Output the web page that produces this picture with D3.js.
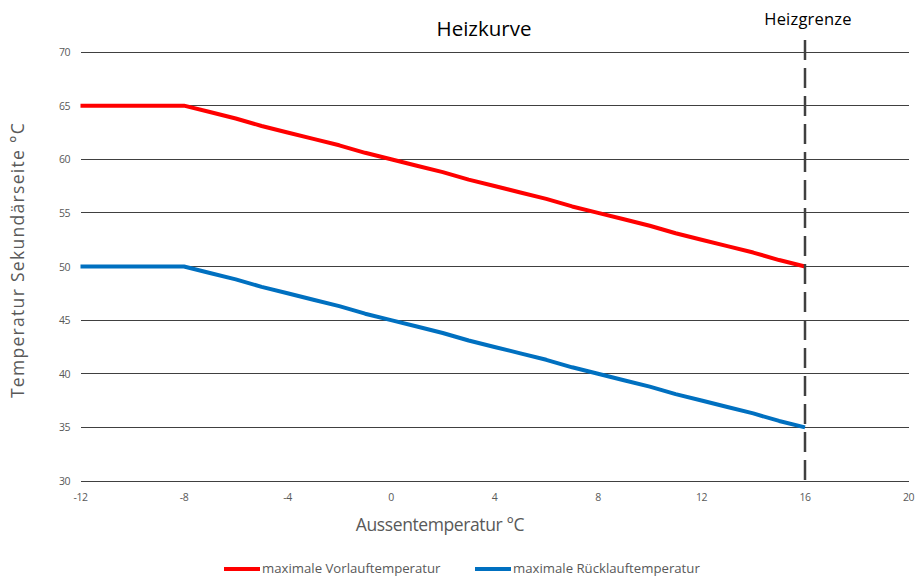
<!DOCTYPE html>
<html><head><meta charset="utf-8">
<script src="https://cdn.jsdelivr.net/npm/d3@7"></script>
<style>body{margin:0;background:#fff}svg{display:block}</style>
</head><body>
<svg id="c" width="916" height="576"></svg>
<script>
const temps = [-12,-11,-10,-9,-8,-7,-6,-5,-4,-3,-2,-1,0,1,2,3,4,5,6,7,8,9,10,11,12,13,14,15,16];
const vorlauf = [65,65,65,65,65,64.4,63.8,63.1,62.5,61.9,61.3,60.6,60,59.4,58.8,58.1,57.5,56.9,56.3,55.6,55,54.4,53.8,53.1,52.5,51.9,51.3,50.6,50];
const ruecklauf = [50,50,50,50,50,49.4,48.8,48.1,47.5,46.9,46.3,45.6,45,44.4,43.8,43.1,42.5,41.9,41.3,40.6,40,39.4,38.8,38.1,37.5,36.9,36.3,35.6,35];
const xTicks = [-12,-8,-4,0,4,8,12,16,20];
const yTicks = [30,35,40,45,50,55,60,65,70];
const heizgrenze = 16;
const seriesNames = ["maximale Vorlauftemperatur","maximale Rücklauftemperatur"];
const colors = ["#FF0000","#0070C0"];

const svg = d3.select("#c");
const font = "'Open Sans', 'Noto Sans', sans-serif";
const x = d3.scaleLinear().domain([-12,20]).range([80.5,908.5]);
const y = d3.scaleLinear().domain([30,70]).range([481,52]);

// grid
svg.append("g").selectAll("line").data(yTicks).join("line")
  .attr("x1",x(-12)).attr("x2",x(20)).attr("y1",d=>y(d)).attr("y2",d=>y(d))
  .attr("stroke","#404040").attr("stroke-width",1).attr("shape-rendering","crispEdges");

// y tick labels
svg.append("g").selectAll("text").data(yTicks).join("text")
  .attr("x",70).attr("y",d=>y(d)+4).attr("text-anchor","end")
  .attr("font-family",font).attr("font-size",10.5).attr("fill","#595959").attr("letter-spacing","-0.5")
  .text(d=>d);
// x tick labels
svg.append("g").selectAll("text").data(xTicks).join("text")
  .attr("x",d=>x(d)).attr("y",501).attr("text-anchor","middle")
  .attr("font-family",font).attr("font-size",10.5).attr("fill","#595959").attr("letter-spacing","-0.5")
  .text(d=>d);

const line = d3.line().x((d,i)=>x(temps[i])).y(d=>y(d));
[vorlauf,ruecklauf].forEach((s,i)=>{
  svg.append("path").attr("d",line(s)).attr("fill","none")
    .attr("stroke",colors[i]).attr("stroke-width",4).attr("stroke-linejoin","round");
});

// Heizgrenze dashed line
svg.append("line").attr("x1",x(heizgrenze)).attr("x2",x(heizgrenze)).attr("y1",40).attr("y2",y(30))
  .attr("stroke","#404040").attr("stroke-width",2.5).attr("stroke-dasharray","20,8");
svg.append("text").attr("x",808).attr("y",25).attr("text-anchor","middle")
  .attr("font-family",font).attr("font-size",16.5).attr("fill","#000").attr("letter-spacing","0.2").text("Heizgrenze");

// title
svg.append("text").attr("x",484).attr("y",36).attr("text-anchor","middle")
  .attr("font-family",font).attr("font-size",20.5).attr("fill","#000").text("Heizkurve");

// axis titles
svg.append("text").attr("x",440).attr("y",531).attr("text-anchor","middle")
  .attr("font-family",font).attr("font-size",17.5).attr("fill","#595959").attr("letter-spacing","-0.4").text("Aussentemperatur °C");
svg.append("text").attr("transform","translate(24,260) rotate(-90)").attr("text-anchor","middle")
  .attr("font-family",font).attr("font-size",17.5).attr("fill","#595959").attr("letter-spacing","1.3").text("Temperatur Sekundärseite °C");

// legend
const legX = [224,475];
seriesNames.forEach((n,i)=>{
  svg.append("line").attr("x1",legX[i]).attr("x2",legX[i]+36).attr("y1",569).attr("y2",569)
    .attr("stroke",colors[i]).attr("stroke-width",4);
  svg.append("text").attr("x",legX[i]+38).attr("y",573).attr("font-family",font).attr("font-size",13.2)
    .attr("fill","#595959").text(n);
});
</script>
</body></html>
